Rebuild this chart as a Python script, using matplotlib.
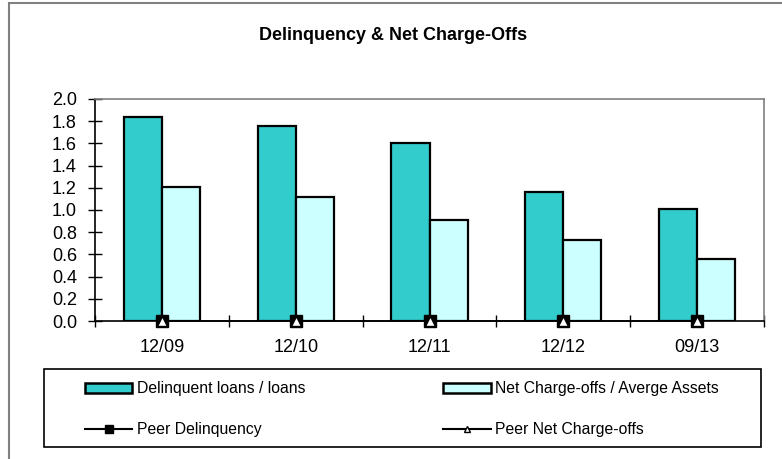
import numpy as np
import matplotlib; matplotlib.use("Agg")
import matplotlib.pyplot as plt
from matplotlib.patches import Rectangle
from matplotlib.lines import Line2D

# ---- data ----
periods = ["12/09", "12/10", "12/11", "12/12", "09/13"]
delinquent = [1.84, 1.76, 1.60, 1.16, 1.01]
net_chargeoffs = [1.21, 1.12, 0.91, 0.73, 0.56]
peer_delinquency = [0.0, 0.0, 0.0, 0.0, 0.0]
peer_chargeoffs = [0.0, 0.0, 0.0, 0.0, 0.0]
yticks = [0.0, 0.2, 0.4, 0.6, 0.8, 1.0, 1.2, 1.4, 1.6, 1.8, 2.0]

plt.rcParams["font.family"] = ["Liberation Sans", "DejaVu Sans"]
TEAL = "#33CCCC"; CYAN = "#CCFFFF"; GRAY = "#808080"

W, H = 782, 459
fig = plt.figure(figsize=(W/100, H/100), dpi=100)
# outer chart frame (only top and left edges fall inside the image)
fig.patches.append(Rectangle((9/W, -10/H), 800/W, (H - 3 + 10)/H, transform=fig.transFigure,
                             fill=False, edgecolor=GRAY, linewidth=1.5))
ax = fig.add_axes([95/W, 1-321/H, 669/W, 222/H])

x = np.arange(len(periods))
bw = 0.285
ax.bar(x - bw/2, delinquent, bw, color=TEAL, edgecolor="black", linewidth=1.6, zorder=2)
ax.bar(x + bw/2, net_chargeoffs, bw, color=CYAN, edgecolor="black", linewidth=1.6, zorder=2)
ax.plot(x, peer_delinquency, color="black", marker="s", markersize=9, lw=1.2, zorder=4, clip_on=False)
ax.plot(x, peer_chargeoffs, color="black", marker="^", markersize=6.5, markerfacecolor="white",
        markeredgecolor="black", lw=0, zorder=5, clip_on=False)

ax.set_xlim(-0.5, len(periods) - 0.5)
ax.set_ylim(0, 2.0)
ax.set_yticks(yticks)
ax.set_yticklabels([f"{v:.1f}" for v in yticks])
ax.set_xticks(x)
ax.set_xticklabels(periods)
ax.set_xticks(np.arange(-0.5, len(periods)), minor=True)
ax.tick_params(axis="x", which="major", length=0, pad=13, labelsize=13)
ax.tick_params(axis="x", which="minor", direction="inout", length=8, width=1)
ax.tick_params(axis="y", direction="inout", length=10, width=1, labelsize=13, pad=8)
for s in ["left", "bottom"]:
    ax.spines[s].set_color("black"); ax.spines[s].set_linewidth(1.2)
for s in ["top", "right"]:
    ax.spines[s].set_color(GRAY); ax.spines[s].set_linewidth(1.2)

fig.text(393/W, 1-36/H, "Delinquency & Net Charge-Offs", ha="center", va="center",
         fontsize=13, fontweight="bold")

# legend box drawn separately, entries placed inside it
fig.patches.append(Rectangle((44/W, 1-447/H), 717/W, 78/H, transform=fig.transFigure,
                             fill=False, edgecolor="black", linewidth=1.2))
handles = [
    Rectangle((0, 0), 1, 1, facecolor=TEAL, edgecolor="black", linewidth=1.8),
    Rectangle((0, 0), 1, 1, facecolor=CYAN, edgecolor="black", linewidth=1.8),
    Line2D([], [], color="black", marker="s", markersize=6, lw=1.5),
    Line2D([], [], color="black", marker="^", markersize=5, markerfacecolor="white", lw=1.5),
]
labels = ["Delinquent loans / loans", "Net Charge-offs / Averge Assets",
          "Peer Delinquency", "Peer Net Charge-offs"]
order = [0, 2, 1, 3]
leg = fig.legend([handles[i] for i in order], [labels[i] for i in order], ncol=2,
                 loc="center", bbox_to_anchor=(85/W, 1-429/H, 634/W, 40/H), mode="expand",
                 fontsize=11.3, handlelength=3.0, handleheight=0.6, handletextpad=0.3,
                 labelspacing=1.65, borderaxespad=0, borderpad=0, frameon=False)

fig.savefig("out.png", dpi=100)
